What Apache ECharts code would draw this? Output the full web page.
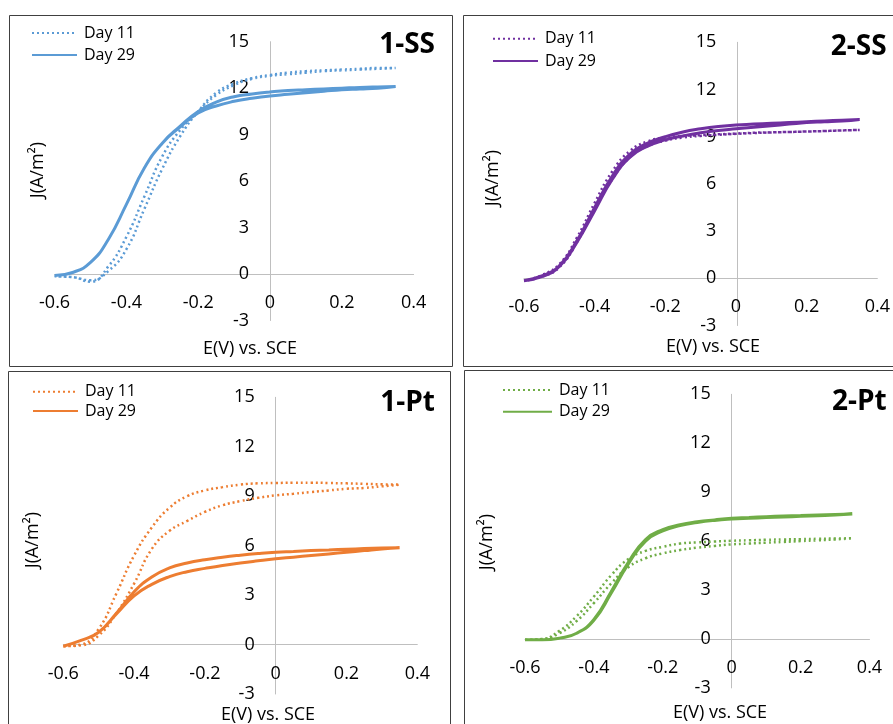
<!DOCTYPE html>
<html><head><meta charset="utf-8">
<script src="https://cdn.jsdelivr.net/npm/echarts@6/dist/echarts.min.js"></script>
<style>html,body{margin:0;padding:0;background:#fff}#c{width:893px;height:724px}</style>
</head><body><div id="c"></div>
<script>
// Potential grid (V vs. SCE): forward scan then reverse scan
const E_FWD = [-0.6,-0.55,-0.5,-0.45,-0.4,-0.35,-0.3,-0.25,-0.2,-0.15,-0.1,-0.05,0,0.05,0.1,0.15,0.2,0.25,0.3,0.35];
const E_REV = [0.3,0.25,0.2,0.15,0.1,0.05,0,-0.05,-0.1,-0.15,-0.2,-0.25,-0.3,-0.35,-0.4,-0.45,-0.5,-0.55,-0.6];
const PANEL_NAMES = ['1-SS','2-SS','1-Pt','2-Pt'];
const SERIES_NAMES = ['Day 11','Day 29'];
const X_AXIS_TITLE = 'E(V) vs. SCE';
const Y_AXIS_TITLE = 'J(A/m²)';
const X_MIN = -0.6, X_MAX = 0.4, X_STEP = 0.2;
const Y_MIN = -3, Y_MAX = 15, Y_STEP = 3;

// Current density J (A/m²)
const ss1_d11_fwd = [-0.15,-0.2,-0.4,0.2,1.6,4.2,6.8,8.9,10.5,11.7,12.3,12.65,12.85,13.0,13.1,13.15,13.2,13.25,13.3,13.3];
const ss1_d11_rev = [13.25,13.2,13.15,13.1,13.0,12.9,12.8,12.6,12.2,11.55,10.5,9.3,7.6,5.0,2.4,0.5,-0.5,-0.2,-0.15];
const ss1_d29_fwd = [-0.1,0.1,0.75,2.25,4.5,6.85,8.45,9.55,10.5,11.1,11.45,11.62,11.75,11.85,11.9,11.95,12.0,12.05,12.08,12.1];
const ss1_d29_rev = [12.0,11.95,11.9,11.8,11.7,11.6,11.5,11.35,11.15,10.85,10.4,9.5,8.45,6.85,4.5,2.25,0.75,0.1,-0.1];

const ss2_d11_fwd = [-0.15,0.2,0.9,2.6,4.8,6.8,8.1,8.7,8.95,9.05,9.1,9.15,9.2,9.25,9.28,9.3,9.33,9.36,9.4,9.43];
const ss2_d11_rev = [9.4,9.36,9.33,9.3,9.27,9.23,9.18,9.12,9.05,8.95,8.75,8.4,7.7,6.3,4.4,2.3,0.7,0.1,-0.15];
const ss2_d29_fwd = [-0.15,0.15,0.8,2.4,4.5,6.5,7.9,8.6,9.0,9.3,9.5,9.65,9.75,9.8,9.85,9.9,9.95,10.0,10.05,10.1];
const ss2_d29_rev = [10.0,9.95,9.9,9.8,9.7,9.6,9.5,9.4,9.25,9.05,8.8,8.4,7.7,6.3,4.3,2.3,0.75,0.1,-0.15];

const pt1_d11_fwd = [-0.1,0.0,0.95,3.1,5.4,7.1,8.3,9.0,9.35,9.55,9.7,9.78,9.8,9.82,9.82,9.8,9.78,9.75,9.72,9.7];
const pt1_d11_rev = [9.6,9.5,9.45,9.35,9.25,9.15,9.05,8.9,8.7,8.45,8.05,7.5,6.9,5.8,3.7,1.9,0.55,-0.05,-0.1];
const pt1_d29_fwd = [-0.1,0.25,0.75,1.9,3.2,4.1,4.65,4.95,5.15,5.3,5.42,5.52,5.6,5.65,5.7,5.74,5.78,5.82,5.85,5.87];
const pt1_d29_rev = [5.8,5.7,5.6,5.5,5.4,5.3,5.2,5.08,4.95,4.8,4.62,4.42,4.12,3.65,2.95,1.85,0.75,0.25,-0.1];

const pt2_d11_fwd = [-0.05,0.0,0.5,1.4,2.6,3.9,4.9,5.4,5.65,5.85,5.92,5.97,6.02,6.05,6.08,6.1,6.12,6.14,6.16,6.17];
const pt2_d11_rev = [6.1,6.05,6.0,5.95,5.9,5.85,5.8,5.7,5.6,5.45,5.25,4.95,4.4,3.4,2.2,1.1,0.35,0.0,-0.05];
const pt2_d29_fwd = [-0.05,-0.05,0.05,0.35,1.2,2.9,4.7,6.1,6.7,7.0,7.18,7.3,7.4,7.45,7.5,7.54,7.57,7.6,7.63,7.66];
const pt2_d29_rev = [7.6,7.56,7.52,7.48,7.44,7.4,7.35,7.27,7.14,6.95,6.62,6.0,4.6,2.8,1.15,0.35,0.05,-0.05,-0.05];

const PANEL_DATA = [
  [[ss1_d11_fwd, ss1_d11_rev], [ss1_d29_fwd, ss1_d29_rev]],
  [[ss2_d11_fwd, ss2_d11_rev], [ss2_d29_fwd, ss2_d29_rev]],
  [[pt1_d11_fwd, pt1_d11_rev], [pt1_d29_fwd, pt1_d29_rev]],
  [[pt2_d11_fwd, pt2_d11_rev], [pt2_d29_fwd, pt2_d29_rev]]
];

const FONT = "'Open Sans', 'Liberation Sans', sans-serif";
const COLORS = ['#5B9BD5','#7030A0','#ED7D31','#70AD47'];
const GRIDS = [
  {left:54.6, top:41.7, width:359, height:278.8},
  {left:524, top:42.3, width:355.5, height:283.2},
  {left:63.3, top:397.3, width:354, height:296.7},
  {left:525, top:394.3, width:344.5, height:293.6}
];
const LEGENDS = [
  {left:26, top:20, itemGap:6, itemWidth:45},
  {left:487, top:25.7, itemGap:6.3, itemWidth:45},
  {left:27, top:378.7, itemGap:3.3, itemWidth:45},
  {left:497, top:377, itemGap:5.7, itemWidth:49}
];
const BORDERS = [
  {x:9.5, y:15.5, width:443, height:351},
  {x:463.5, y:15.5, width:450, height:351},
  {x:8.5, y:371.5, width:442, height:400},
  {x:464.5, y:370.5, width:450, height:400}
];
const TITLE_POS = [[435,45],[886.7,46.7],[435,403],[886.7,402]];
const XT_POS = [[250,349],[713,346.7],[268,715],[720,713]];
const YT_POS = [[38,170],[493,178],[33,540],[487,542]];

function loop(fwd, rev) {
  return E_FWD.map((e, i) => [e, fwd[i]]).concat(E_REV.map((e, i) => [e, rev[i]]));
}

const grid = [], xAxis = [], yAxis = [], series = [], legend = [], graphic = [];
PANEL_NAMES.forEach((pname, p) => {
  const g = GRIDS[p];
  grid.push(Object.assign({containLabel:false}, g));
  // axes cross at the origin: shift each axis from the grid edge to the zero line
  const yOff = -((0 - X_MIN) / (X_MAX - X_MIN)) * g.width;
  const xOff = -((0 - Y_MIN) / (Y_MAX - Y_MIN)) * g.height;
  xAxis.push({
    gridIndex:p, type:'value', min:X_MIN, max:X_MAX, interval:X_STEP,
    position:'bottom', offset:xOff,
    axisLine:{show:true, onZero:false, lineStyle:{color:'#BFBFBF', width:1}},
    axisTick:{show:false}, splitLine:{show:false},
    axisLabel:{margin:20, fontSize:18, color:'#000', fontFamily:FONT,
      formatter: v => String(+v.toFixed(1))}
  });
  yAxis.push({
    gridIndex:p, type:'value', min:Y_MIN, max:Y_MAX, interval:Y_STEP,
    position:'left', offset:yOff,
    axisLine:{show:true, onZero:false, lineStyle:{color:'#BFBFBF', width:1}},
    axisTick:{show:false}, splitLine:{show:false},
    axisLabel:{margin:21, fontSize:18, color:'#000', fontFamily:FONT}
  });
  const names = [];
  SERIES_NAMES.forEach((sname, s) => {
    const full = pname + '|' + sname;
    names.push(full);
    const [fwd, rev] = PANEL_DATA[p][s];
    series.push({
      name: full, type:'line', xAxisIndex:p, yAxisIndex:p,
      data: loop(fwd, rev), smooth:0.5, symbol:'none',
      color: COLORS[p],
      lineStyle: s === 0
        ? {color:COLORS[p], width:2.5, type:[2,3]}
        : {color:COLORS[p], width:3, type:'solid'},
      emphasis:{disabled:true}, silent:true, animation:false
    });
  });
  legend.push({
    orient:'vertical', left:LEGENDS[p].left, top:LEGENDS[p].top,
    itemWidth:LEGENDS[p].itemWidth, itemHeight:14, itemGap:LEGENDS[p].itemGap,
    data:names, selectedMode:false,
    itemStyle:{opacity:0},
    textStyle:{fontSize:16, color:'#000', fontFamily:FONT, padding:[0,0,0,2]},
    formatter: n => n.split('|')[1]
  });
  graphic.push({type:'rect', shape:BORDERS[p], style:{fill:'none', stroke:'#404040', lineWidth:1}, silent:true});
  graphic.push({type:'text', x:TITLE_POS[p][0], y:TITLE_POS[p][1],
    style:{text:pname, font:"bold 28px " + FONT, fill:'#000', textAlign:'right', textVerticalAlign:'middle'}});
  graphic.push({type:'text', x:XT_POS[p][0], y:XT_POS[p][1],
    style:{text:X_AXIS_TITLE, font:"18px " + FONT, fill:'#000', textAlign:'center', textVerticalAlign:'middle'}});
  graphic.push({type:'text', x:YT_POS[p][0], y:YT_POS[p][1], rotation:Math.PI/2,
    style:{text:Y_AXIS_TITLE, font:"18px " + FONT, fill:'#000', textAlign:'center', textVerticalAlign:'middle'}});
});

const chart = echarts.init(document.getElementById('c'), null, {renderer:'canvas'});
chart.setOption({animation:false, backgroundColor:'#fff', grid, xAxis, yAxis, series, legend, graphic});
</script>
</body></html>
